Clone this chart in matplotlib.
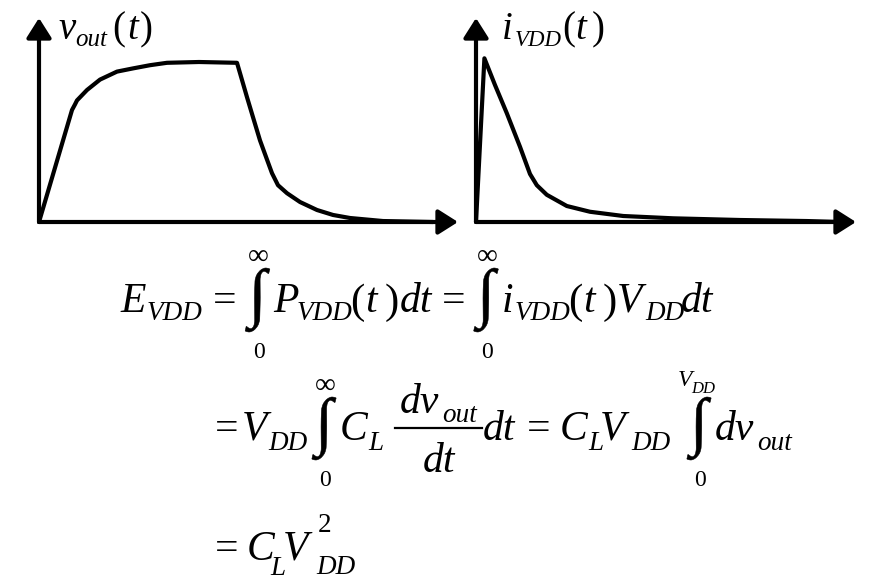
import matplotlib
matplotlib.use("Agg")
import matplotlib.pyplot as plt
from matplotlib.lines import Line2D
from matplotlib.patches import PathPatch
from matplotlib.textpath import TextPath
from matplotlib.font_manager import FontProperties
from matplotlib.transforms import IdentityTransform, Affine2D

plt.rcParams["font.family"] = ["Liberation Serif", "DejaVu Serif"]

# sketch data (time in arbitrary units, normalised amplitude)
t_out = [0, 0.825, 0.9, 0.95, 1.2, 1.525, 1.95, 2.35, 2.775, 3.2, 4.0, 4.95, 5.2, 5.35,
         5.525, 5.7, 5.825, 5.975, 6.2, 6.525, 6.95, 7.35, 7.775, 8.6, 9.85]
v_out = [0, 0.70, 0.735, 0.76, 0.825, 0.89, 0.94, 0.96, 0.98, 0.995, 1.0, 0.995, 0.78,
         0.655, 0.51, 0.39, 0.305, 0.23, 0.18, 0.125, 0.075, 0.044, 0.025, 0.006, 0]

t_i = [0, 0.21, 0.475, 0.77, 1.1, 1.35, 1.52, 1.77, 2.27, 2.85, 3.68, 4.93, 6.6, 8.27, 9.1]
i_vdd = [0, 1.023, 0.856, 0.68, 0.47, 0.30, 0.23, 0.17, 0.10, 0.064, 0.0375, 0.023, 0.0125,
         0.006, 0]

W, H = 884, 581
M = 30      # main symbols
S = 19.5    # subscripts
P = 31      # parentheses in equations
LIM = 17    # integral limits

fig = plt.figure(figsize=(W / 100, H / 100), dpi=100)
fig.patch.set_facecolor("white")
px = IdentityTransform()


def sketch(x0, y0, x_tip, y_tip, t, y):
    # 40 px per time unit, 160 px per amplitude unit
    ax = fig.add_axes([x0 / W, (H - y0) / H, (x_tip - x0) / W, (y0 - y_tip) / H])
    xmax = (x_tip - x0) / 40
    ymax = (y0 - y_tip) / 160
    ax.set_xlim(0, xmax)
    ax.set_ylim(0, ymax)
    ax.axis("off")
    arrow = dict(arrowstyle="-|>,head_length=0.6,head_width=0.38", lw=3, color="k",
                 mutation_scale=20, shrinkA=0, shrinkB=0)
    ax.annotate("", xy=(xmax, 0), xytext=(0, 0), arrowprops=arrow, annotation_clip=False)
    ax.annotate("", xy=(0, ymax), xytext=(0, 0), arrowprops=arrow, annotation_clip=False)
    ax.plot(t, y, color="k", lw=3, clip_on=False, solid_capstyle="round")
    return ax


sketch(39, 222, 458, 18, t_out, v_out)
sketch(476, 222, 856, 18, t_i, i_vdd)


def put(x, base, s, fs=M):
    upright = all(c in "=()0123456789∞" for c in s)
    return fig.text(x, H - base, s, transform=px, fontsize=fs, ha="left", va="baseline",
                    style="normal" if upright else "italic")


def row(base, items):
    # items: (x, text, size, drop below baseline in px)
    for x, s, fs, dy in items:
        put(x, base + dy, s, fs)


INT_PATH = TextPath((0, 0), "∫", size=100, prop=FontProperties(family="Liberation Serif"))
INT_EXT = INT_PATH.get_extents()


def integral(xc, top, bottom, upper=True):
    s = (bottom - top) / INT_EXT.height
    tr = (Affine2D().translate(-(INT_EXT.x0 + INT_EXT.x1) / 2, -INT_EXT.y0)
          .scale(s).translate(xc, H - bottom))
    fig.add_artist(PathPatch(tr.transform_path(INT_PATH), facecolor="k",
                             edgecolor="k", lw=0.4, transform=px))
    if upper:
        fig.text(xc + 1, H - (top - 4), "∞", transform=px, fontsize=21,
                 ha="center", va="baseline")
    fig.text(xc + 1, H - (bottom + 26), "0", transform=px, fontsize=LIM,
             ha="center", va="baseline")


# plot labels
row(39, [(58, "v", 28, 0), (75, "out", 18, 7), (112, "(", 28, 0), (127, "t", 28, 0),
         (140, ")", 28, 0)])
row(39, [(502, "i", 28, 0), (515, "VDD", 16.5, 7), (562, "(", 28, 0), (575, "t", 28, 0),
         (592, ")", 28, 0)])

# line 1
row(312, [(120, "E", M, 0), (147, "VDD", S, 8), (213, "=", M, 0),
          (273, "P", M, 0), (297, "VDD", S, 8), (350, "(", P, 1), (365, "t", M, 0),
          (385, ")", P, 1), (400, "dt", M, 0), (442, "=", M, 0),
          (502, "i", M, 0), (515, "VDD", S, 8), (568, "(", P, 1), (583, "t", M, 0),
          (603, ")", P, 1), (617, "V", M, 0), (645, "DD", S, 8), (681, "dt", M, 0)])
integral(257.5, 268, 332)
integral(486, 268, 332)

# line 2
row(440, [(215, "=", M, 0), (242, "V", M, 0), (268, "DD", S, 10),
          (340, "C", M, 0), (368, "L", S, 10),
          (483, "dt", M, 0), (527, "=", M, 0),
          (560, "C", M, 0), (588, "L", S, 10), (600, "V", M, 0), (631, "DD", S, 10),
          (715, "dv", M, 0), (757, "out", S, 10)])
# fraction dv_out / dt
row(413, [(400, "dv", M, 0), (442, "out", S, 9)])
row(472, [(423, "dt", M, 0)])
fig.add_artist(Line2D([395, 482], [H - 428, H - 428], transform=px, color="k", lw=1.6))
integral(324, 397, 460)
integral(699, 397, 460, upper=False)
row(386, [(678, "V", LIM, 0), (691, "DD", 12, 7)])

# line 3
row(560, [(215, "=", M, 0), (247, "C", M, 0), (270, "L", S, 15), (283, "V", M, 0),
          (318, "2", S, -28), (316, "DD", S, 14)])

fig.savefig("out.png", dpi=100, facecolor="white")
